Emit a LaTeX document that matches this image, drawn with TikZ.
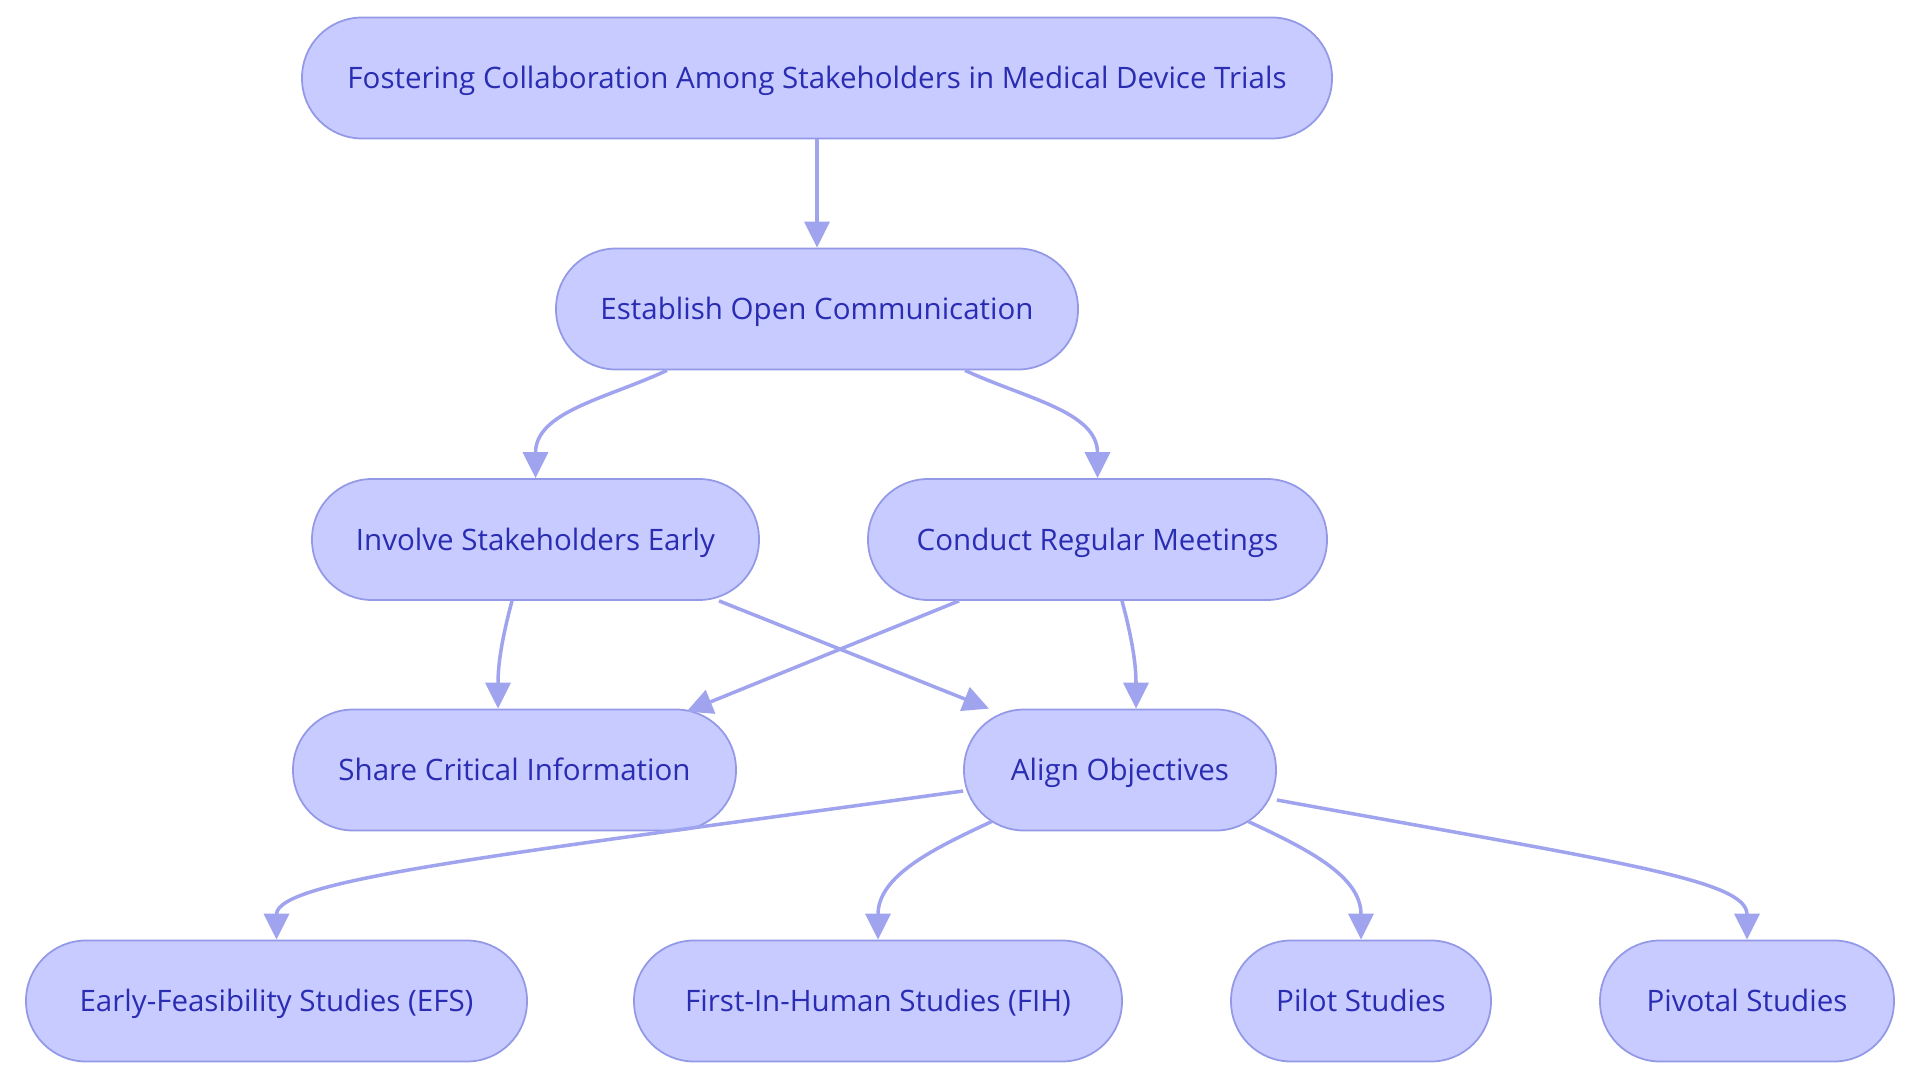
\documentclass[tikz,border=0pt]{standalone}
\usepackage{fontspec}
\setmainfont{Open Sans}
\usepackage{tikz}
\usetikzlibrary{arrows.meta}

\definecolor{boxfill}{RGB}{199,203,255}
\definecolor{boxline}{RGB}{147,153,230}
\definecolor{boxtext}{RGB}{42,44,178}
\definecolor{linkcol}{RGB}{160,164,238}

\begin{document}
\begin{tikzpicture}[box/.style={rectangle,rounded corners=0.6cm,draw=boxline,line width=0.5pt,fill=boxfill,text=boxtext,minimum height=1.21cm,minimum width=#1,inner sep=0pt,text height=1.6ex,text depth=0.45ex,font=\fontsize{8.4}{10}\selectfont},link/.style={draw=linkcol,line width=1pt,-{Triangle[length=0.26cm,width=0.25cm]}}]
\useasboundingbox (0,0) rectangle (19.2,-10.83);
% boxes
\node[box=10.30cm] (top) at (8.17,-0.78) {Fostering Collaboration Among Stakeholders in Medical Device Trials};
\node[box=5.22cm] (est) at (8.17,-3.09) {Establish Open Communication};
\node[box=4.47cm] (inv) at (5.355,-5.395) {Involve Stakeholders Early};
\node[box=4.59cm] (con) at (10.975,-5.395) {Conduct Regular Meetings};
\node[box=4.43cm] (share) at (5.145,-7.70) {Share Critical Information};
\node[box=3.12cm] (align) at (11.20,-7.70) {Align Objectives};
\node[box=5.01cm] (efs) at (2.765,-10.01) {Early-Feasibility Studies (EFS)};
\node[box=4.88cm] (fih) at (8.78,-10.01) {First-In-Human Studies (FIH)};
\node[box=2.60cm] (pilot) at (13.61,-10.01) {Pilot Studies};
\node[box=2.94cm] (pivot) at (17.47,-10.01) {Pivotal Studies};
% links
\draw[link] (top) -- (est);
\draw[link] ([xshift=-1.5cm]est.south) to[out=-155,in=90] (inv.north);
\draw[link] ([xshift=1.48cm]est.south) to[out=-25,in=90] (con.north);
\draw[link] ([xshift=-0.235cm]inv.south) to[out=-105,in=90] ([xshift=-0.165cm]share.north);
\draw[link] ([xshift=1.835cm]inv.south) -- ([xshift=-1.31cm]align.north);
\draw[link] ([xshift=-1.385cm]con.south) -- ([xshift=1.72cm,yshift=-0.03cm]share.north);
\draw[link] ([xshift=0.245cm]con.south) to[out=-75,in=90] ([xshift=0.16cm]align.north);
\draw[link] ([yshift=-0.21cm]align.west) .. controls +(-4.64,-0.64) and +(0,0.6) .. (efs.north);
\draw[link] ([xshift=-1.28cm,yshift=0.1cm]align.south) to[out=-155,in=90] (fih.north);
\draw[link] ([xshift=1.28cm,yshift=0.1cm]align.south) to[out=-25,in=90] (pilot.north);
\draw[link] ([yshift=-0.3cm]align.east) .. controls +(3.4,-0.62) and +(0,0.6) .. (pivot.north);
\end{tikzpicture}
\end{document}
